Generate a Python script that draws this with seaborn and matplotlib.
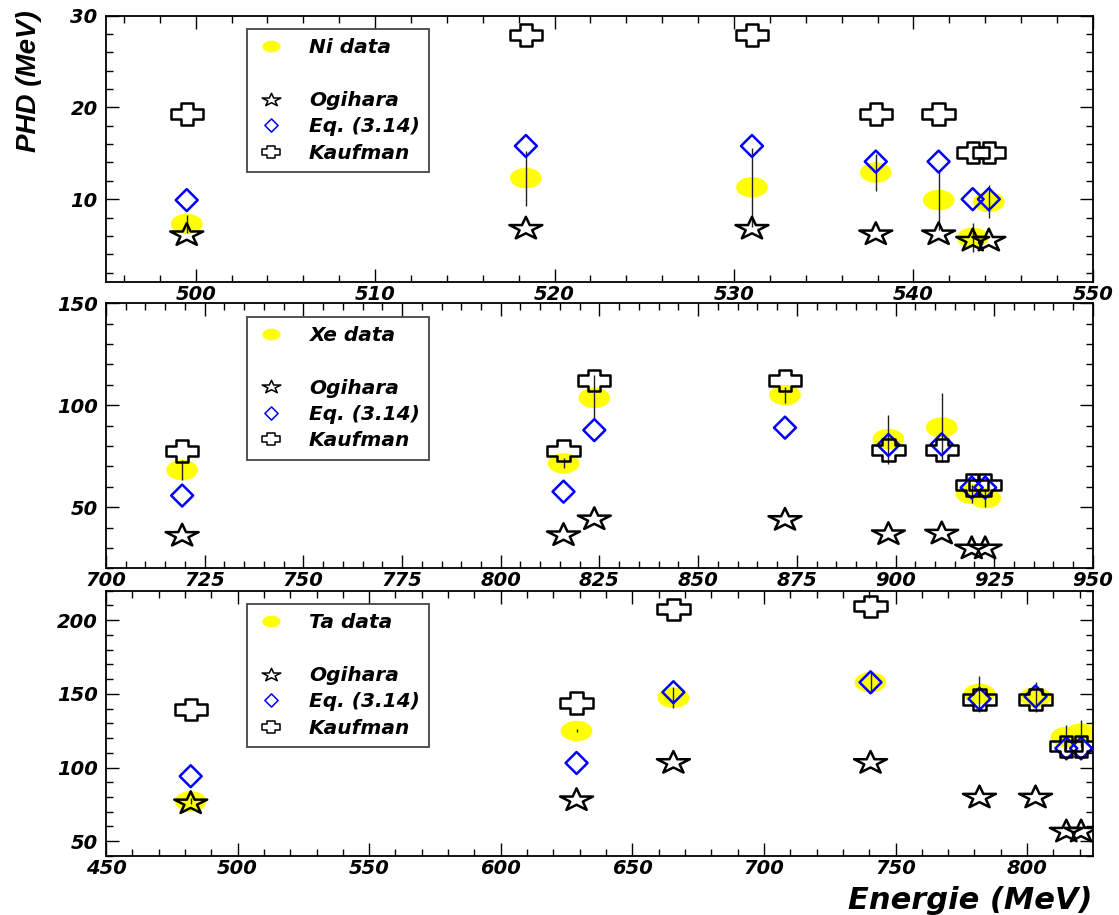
import numpy as np
import pandas as pd
import matplotlib
matplotlib.use("Agg")
import matplotlib.pyplot as plt
from matplotlib.path import Path
from matplotlib.lines import Line2D
from matplotlib.ticker import MultipleLocator
import seaborn as sns

# ---------------- data ----------------
ni_energy = [499.5, 518.4, 531.0, 537.9, 541.4, 543.3, 544.2]
ni_data = [7.3, 12.3, 11.3, 12.9, 9.9, 5.8, 9.7]
ni_err = [1.0, 3.0, 4.3, 2.0, 3.3, 1.6, 1.8]
ni_ogihara = [6.2, 6.9, 6.9, 6.3, 6.3, 5.6, 5.6]
ni_eq = [9.9, 15.8, 15.8, 14.1, 14.1, 10.0, 10.0]
ni_kaufman = [19.3, 27.9, 27.9, 19.3, 19.3, 15.1, 15.1]

xe_energy = [719.3, 815.9, 823.7, 872.0, 898.2, 911.7, 919.3, 922.7]
xe_data = [68.2, 71.5, 103.6, 105.0, 83.4, 89.1, 56.5, 54.4]
xe_err = [5.0, 2.5, 11.0, 4.0, 12.0, 17.0, 4.5, 4.5]
xe_ogihara = [36.5, 36.8, 44.6, 44.3, 37.3, 37.6, 30.3, 30.3]
xe_eq = [55.7, 57.6, 87.8, 89.0, 80.5, 80.8, 59.6, 59.6]
xe_kaufman = [77.5, 77.7, 112.2, 112.2, 78.0, 78.0, 60.9, 60.9]

ta_energy = [482.2, 628.8, 665.6, 740.5, 781.9, 803.2, 814.9, 820.5]
ta_data = [77.0, 124.8, 147.3, 157.8, 150.0, 147.7, 120.7, 123.0]
ta_err = [2.0, 1.0, 7.0, 7.0, 12.0, 10.0, 8.0, 9.0]
ta_ogihara = [76.5, 78.6, 103.9, 103.9, 80.4, 80.4, 57.3, 57.3]
ta_eq = [94.1, 103.1, 151.1, 157.8, 146.6, 148.2, 113.0, 113.0]
ta_kaufman = [139.4, 143.7, 207.4, 209.4, 146.2, 146.2, 114.5, 114.5]

series_labels = ["Ogihara", "Eq. (3.14)", "Kaufman"]
data_labels = ["Ni data", "Xe data", "Ta data"]

# ---------------- style ----------------
sns.set_style("ticks")
plt.rcParams["font.family"] = ["DejaVu Sans"]
plt.rcParams["font.weight"] = "bold"
plt.rcParams["font.style"] = "italic"
plt.rcParams["text.color"] = "black"
plt.rcParams["axes.labelcolor"] = "black"
plt.rcParams["xtick.color"] = "black"
plt.rcParams["ytick.color"] = "black"
plt.rcParams["xtick.labelcolor"] = "black"
plt.rcParams["ytick.labelcolor"] = "black"


def ellipse_path(b=0.645):
    t = np.linspace(0, 2 * np.pi, 61)
    verts = np.column_stack([np.cos(t), b * np.sin(t)])
    return Path(verts, closed=True)


def star_path(xs=1.45, ri=0.382):
    k = np.arange(10)
    ang = np.pi / 2 + k * np.pi / 5
    r = np.where(k % 2 == 0, 1.0, ri)
    x = r * np.cos(ang) * xs
    y = r * np.sin(ang) - (1 - np.cos(np.pi / 5)) / 2
    verts = np.vstack([np.column_stack([x, y]), [x[0], y[0]]])
    return Path(verts, closed=True)


def cross_path(hh=0.33, va=0.19, ha=0.16, hw=0.5):
    verts = [(-va, hh), (va, hh), (va, ha), (hw, ha), (hw, -ha), (va, -ha),
             (va, -hh), (-va, -hh), (-va, -ha), (-hw, -ha), (-hw, ha),
             (-va, ha), (-va, hh)]
    return Path(verts, closed=True)


def diamond_path():
    verts = [(0, 0.5), (0.5, 0), (0, -0.5), (-0.5, 0), (0, 0.5)]
    return Path(verts, closed=True)


ELL = ellipse_path()
STAR = star_path()
CROSS = cross_path()
DIAM = diamond_path()

YELLOW = "#ffff00"
BLUE = "#0000ff"

fig = plt.figure(figsize=(11.19, 9.15), dpi=100)
fig.patch.set_facecolor("white")

LEFT, WIDTH = 0.0947, 0.882
boxes = [(0.6921, 0.2907), (0.3789, 0.2896), (0.0645, 0.2900)]

panels = [
    dict(E=ni_energy, D=ni_data, err=ni_err, ogi=ni_ogihara, eq=ni_eq,
         kau=ni_kaufman, label=data_labels[0], xlim=(495, 550), ylim=(1, 30),
         xmaj=10, xmin=2, ymaj=10, ymin=2),
    dict(E=xe_energy, D=xe_data, err=xe_err, ogi=xe_ogihara, eq=xe_eq,
         kau=xe_kaufman, label=data_labels[1], xlim=(700, 950), ylim=(20, 150),
         xmaj=25, xmin=5, ymaj=50, ymin=10),
    dict(E=ta_energy, D=ta_data, err=ta_err, ogi=ta_ogihara, eq=ta_eq,
         kau=ta_kaufman, label=data_labels[2], xlim=(450, 825), ylim=(40, 220),
         xmaj=50, xmin=10, ymaj=50, ymin=10),
]

axes = []
for (bottom, height), p in zip(boxes, panels):
    ax = fig.add_axes([LEFT, bottom, WIDTH, height])
    axes.append(ax)
    df = pd.DataFrame({"E": p["E"], "D": p["D"], "err": p["err"],
                       "ogi": p["ogi"], "eq": p["eq"], "kau": p["kau"]})

    sns.scatterplot(data=df, x="E", y="D", marker=ELL, s=520, color=YELLOW,
                    edgecolor="none", linewidth=0, ax=ax, zorder=2, legend=False)
    ax.errorbar(df["E"], df["D"], yerr=df["err"], fmt="none",
                ecolor="#222222", elinewidth=1.0, capsize=0, zorder=3)
    sns.scatterplot(data=df, x="E", y="ogi", marker=STAR, s=560, color="black",
                    facecolor="none", edgecolor="black", linewidth=1.8,
                    ax=ax, zorder=4, legend=False)
    sns.scatterplot(data=df, x="E", y="eq", marker=DIAM, s=250, color=BLUE,
                    facecolor="none", edgecolor=BLUE, linewidth=1.8,
                    ax=ax, zorder=5, legend=False)
    sns.scatterplot(data=df, x="E", y="kau", marker=CROSS, s=540, color="black",
                    facecolor="none", edgecolor="black", linewidth=1.8,
                    ax=ax, zorder=6, legend=False)

    ax.set_xlim(*p["xlim"])
    ax.set_ylim(*p["ylim"])
    ax.xaxis.set_major_locator(MultipleLocator(p["xmaj"]))
    ax.xaxis.set_minor_locator(MultipleLocator(p["xmin"]))
    ax.yaxis.set_major_locator(MultipleLocator(p["ymaj"]))
    ax.yaxis.set_minor_locator(MultipleLocator(p["ymin"]))
    ax.tick_params(which="both", direction="in", top=True, right=True,
                   width=1.0, color="black", labelcolor="black")
    ax.tick_params(which="major", length=9.5)
    ax.tick_params(which="minor", length=5)
    ax.tick_params(axis="x", pad=2, labelsize=14)
    ax.tick_params(axis="y", pad=6, labelsize=14)
    for s in ax.spines.values():
        s.set_visible(True)
        s.set_linewidth(1.3)
        s.set_color("black")
    ax.set_xlabel("")
    ax.set_ylabel("")
    ax.grid(False)

    handles = [
        Line2D([], [], linestyle="none", marker=ELL, markersize=13,
               markerfacecolor=YELLOW, markeredgecolor="none"),
        Line2D([], [], linestyle="none", marker=None),
        Line2D([], [], linestyle="none", marker=STAR, markersize=13.5,
               markerfacecolor="none", markeredgecolor="black",
               markeredgewidth=1.1),
        Line2D([], [], linestyle="none", marker=DIAM, markersize=9.5,
               markerfacecolor="none", markeredgecolor=BLUE,
               markeredgewidth=1.1),
        Line2D([], [], linestyle="none", marker=CROSS, markersize=13.5,
               markerfacecolor="none", markeredgecolor="black",
               markeredgewidth=1.1),
    ]
    labels = [p["label"], " "] + series_labels
    leg = ax.legend(handles, labels, loc="upper left",
                    bbox_to_anchor=(0.1425, 0.95), borderaxespad=0,
                    fontsize=14.5, frameon=True, fancybox=False, shadow=False,
                    framealpha=1, edgecolor="#444444", borderpad=0.45,
                    handlelength=1.55, handletextpad=1.1, labelspacing=0.37)
    leg.get_frame().set_linewidth(1.3)
    for t in leg.get_texts():
        t.set_fontweight("bold")
        t.set_fontstyle("italic")
        t.set_color("black")

axes[0].set_ylabel("PHD (MeV)", family="Liberation Sans", fontsize=20,
                   fontweight="bold", fontstyle="italic", loc="top",
                   color="black")
axes[0].yaxis.set_label_coords(-0.065, 1.022)

axes[2].set_xlabel("Energie (MeV)", fontsize=22, fontweight="bold",
                   fontstyle="italic", loc="right", color="black")
axes[2].xaxis.set_label_coords(1.0, -0.115)

fig.savefig("out.png", dpi=100, facecolor="white")
